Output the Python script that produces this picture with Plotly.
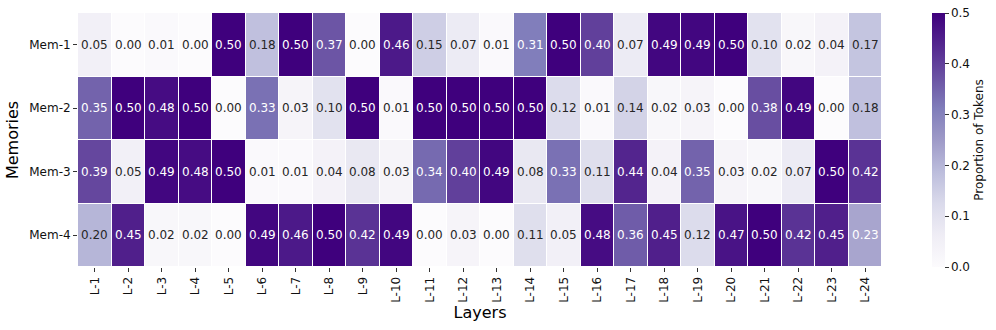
import plotly.graph_objects as go

layers = [f"L-{i}" for i in range(1, 25)]
memories = ["Mem-1", "Mem-2", "Mem-3", "Mem-4"]

mem1 = [0.05, 0.00, 0.01, 0.00, 0.50, 0.18, 0.50, 0.37, 0.00, 0.46, 0.15, 0.07,
        0.01, 0.31, 0.50, 0.40, 0.07, 0.49, 0.49, 0.50, 0.10, 0.02, 0.04, 0.17]
mem2 = [0.35, 0.50, 0.48, 0.50, 0.00, 0.33, 0.03, 0.10, 0.50, 0.01, 0.50, 0.50,
        0.50, 0.50, 0.12, 0.01, 0.14, 0.02, 0.03, 0.00, 0.38, 0.49, 0.00, 0.18]
mem3 = [0.39, 0.05, 0.49, 0.48, 0.50, 0.01, 0.01, 0.04, 0.08, 0.03, 0.34, 0.40,
        0.49, 0.08, 0.33, 0.11, 0.44, 0.04, 0.35, 0.03, 0.02, 0.07, 0.50, 0.42]
mem4 = [0.20, 0.45, 0.02, 0.02, 0.00, 0.49, 0.46, 0.50, 0.42, 0.49, 0.00, 0.03,
        0.00, 0.11, 0.05, 0.48, 0.36, 0.45, 0.12, 0.47, 0.50, 0.42, 0.45, 0.23]
z = [mem1, mem2, mem3, mem4]

purples = ["#fcfbfd", "#efedf5", "#dadaeb", "#bcbddc", "#9e9ac8",
           "#807dba", "#6a51a3", "#54278f", "#3f007d"]
colorscale = [[i / (len(purples) - 1), c] for i, c in enumerate(purples)]

font = "DejaVu Sans, sans-serif"

fig = go.Figure(go.Heatmap(
    z=z, x=layers, y=memories, zmin=0, zmax=0.5,
    colorscale=colorscale, xgap=1, ygap=1,
    colorbar=dict(
        x=1.062, xanchor="left", xpad=0, y=0.5, yanchor="middle", len=1.0, lenmode="fraction",
        ypad=0, thickness=13, outlinewidth=0,
        tickvals=[0, 0.1, 0.2, 0.3, 0.4, 0.5], ticktext=["0.0", "0.1", "0.2", "0.3", "0.4", "0.5"],
        ticks="outside", ticklen=4, tickcolor="#333", tickfont=dict(size=12, color="#111", family=font),
        title=dict(text="Proportion of Tokens", side="right", font=dict(size=12, color="#111", family=font)),
    ),
    hoverinfo="skip",
))

annotations = []
for r, row in enumerate(z):
    for c, v in enumerate(row):
        annotations.append(dict(
            x=layers[c], y=memories[r], text=f"{v:.2f}", showarrow=False,
            font=dict(size=12, family=font, color="white" if v > 0.21 else "#262626"),
        ))

fig.update_layout(
    width=996, height=330,
    margin=dict(l=78, r=114, t=13, b=63, autoexpand=False),
    paper_bgcolor="white", plot_bgcolor="white",
    annotations=annotations,
    font=dict(family=font, color="#111"),
    xaxis=dict(
        title=dict(text="Layers", font=dict(size=16, family=font, color="#000"), standoff=3),
        tickangle=-90, ticks="outside", ticklen=4, tickcolor="#333",
        tickfont=dict(size=12, family=font, color="#111"), showgrid=False, zeroline=False,
    ),
    yaxis=dict(
        title=dict(text="Memories", font=dict(size=16, family=font, color="#000"), standoff=6),
        autorange="reversed", ticks="outside", ticklen=4, tickcolor="#333",
        tickfont=dict(size=12, family=font, color="#111"), showgrid=False, zeroline=False,
    ),
)

fig.write_html(
    "out.html",
    config={"displayModeBar": False},
    post_script="document.body.style.margin='0';document.body.style.padding='0';document.body.style.overflow='hidden';",
)
